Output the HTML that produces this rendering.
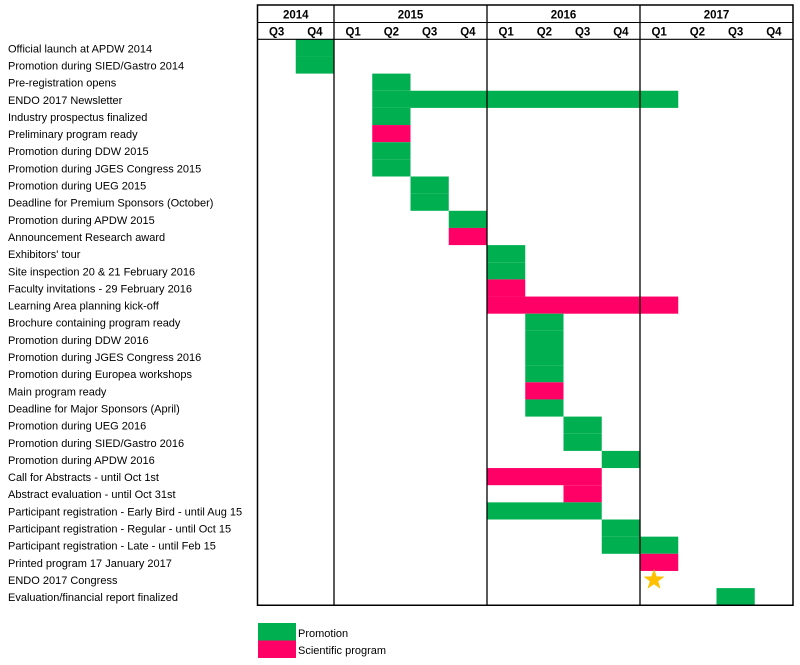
<!DOCTYPE html>
<html><head><meta charset="utf-8"><style>
html,body{margin:0;padding:0;background:#fff;}
svg{display:block;font-family:"Liberation Sans",sans-serif;}
</style></head><body>
<svg width="800" height="665" viewBox="0 0 800 665" xmlns="http://www.w3.org/2000/svg">
<g id="bars"></g>
<g id="labels" font-size="11" fill="#000"></g>
<g id="grid"></g>
</svg>
<script>
const NS="http://www.w3.org/2000/svg";
const X0=257.5,CW=38.25,Y0=39.3,RH=17.15;
const G="#00b050",P="#ff0066";
const rows=[
["Official launch  at APDW 2014",[[1,1,G]]],
["Promotion during SIED/Gastro 2014",[[1,1,G]]],
["Pre-registration opens",[[3,3,G]]],
["ENDO 2017 Newsletter",[[3,10,G]]],
["Industry prospectus finalized",[[3,3,G]]],
["Preliminary program ready",[[3,3,P]]],
["Promotion during DDW 2015",[[3,3,G]]],
["Promotion during JGES Congress 2015",[[3,3,G]]],
["Promotion during UEG 2015",[[4,4,G]]],
["Deadline for Premium Sponsors (October)",[[4,4,G]]],
["Promotion during APDW 2015",[[5,5,G]]],
["Announcement Research award",[[5,5,P]]],
["Exhibitors' tour",[[6,6,G]]],
["Site inspection 20 & 21 February 2016",[[6,6,G]]],
["Faculty invitations - 29 February 2016",[[6,6,P]]],
["Learning Area planning kick-off",[[6,10,P]]],
["Brochure containing program ready",[[7,7,G]]],
["Promotion during DDW 2016",[[7,7,G]]],
["Promotion during JGES Congress 2016",[[7,7,G]]],
["Promotion during Europea workshops",[[7,7,G]]],
["Main program ready",[[7,7,P]]],
["Deadline for Major Sponsors (April)",[[7,7,G]]],
["Promotion during UEG 2016",[[8,8,G]]],
["Promotion during SIED/Gastro 2016",[[8,8,G]]],
["Promotion during APDW 2016",[[9,9,G]]],
["Call for Abstracts - until Oct 1st",[[6,8,P]]],
["Abstract evaluation - until Oct 31st",[[8,8,P]]],
["Participant registration - Early Bird - until Aug 15",[[6,8,G]]],
["Participant registration - Regular - until Oct 15",[[9,9,G]]],
["Participant registration - Late - until Feb 15",[[9,10,G]]],
["Printed program 17 January 2017",[[10,10,P]]],
["ENDO 2017 Congress",[]],
["Evaluation/financial report finalized",[[12,12,G]]]
];
function el(t,a,p,txt){const e=document.createElementNS(NS,t);for(const k in a)e.setAttribute(k,a[k]);if(txt!=null)e.textContent=txt;p.appendChild(e);return e;}
const bars=document.getElementById("bars"),labels=document.getElementById("labels"),grid=document.getElementById("grid");
rows.forEach((r,i)=>{
 const y=Y0+i*RH;
 el("text",{x:8,y:y+13},labels,r[0]);
 r[1].forEach(b=>{el("rect",{x:X0+b[0]*CW,y:y,width:(b[1]-b[0]+1)*CW,height:RH,fill:b[2]},bars);});
});
(function(){const cx=X0+10*CW+14,cy=Y0+31*RH+9,R=11,r=4.4;let pts=[];for(let k=0;k<10;k++){const a=-Math.PI/2+k*Math.PI/5;const rr=k%2?r:R;pts.push((cx+rr*Math.cos(a)).toFixed(1)+","+(cy+rr*Math.sin(a)).toFixed(1));}el("polygon",{points:pts.join(" "),fill:"#ffc000"},bars);})();
const bottom=Y0+33*RH, right=X0+14*CW;
el("rect",{x:X0,y:5,width:14*CW,height:bottom-5,fill:"none",stroke:"#000","stroke-width":1.5},grid);
el("line",{x1:X0,y1:22.5,x2:right,y2:22.5,stroke:"#000","stroke-width":1},grid);
el("line",{x1:X0,y1:Y0,x2:right,y2:Y0,stroke:"#000","stroke-width":1.2},grid);
[2,6,10].forEach(c=>el("line",{x1:X0+c*CW,y1:5,x2:X0+c*CW,y2:bottom,stroke:"#000","stroke-width":1.3},grid));
const yrs=[["2014",0,2],["2015",2,6],["2016",6,10],["2017",10,14]];
yrs.forEach(y=>el("text",{x:X0+(y[1]+y[2])/2*CW,y:18.5,"text-anchor":"middle","font-size":11.5,"font-weight":"bold"},grid,y[0]));
const qs=["Q3","Q4","Q1","Q2","Q3","Q4","Q1","Q2","Q3","Q4","Q1","Q2","Q3","Q4"];
qs.forEach((q,i)=>el("text",{x:X0+(i+0.5)*CW,y:35.5,"text-anchor":"middle","font-size":11.5,"font-weight":"bold"},grid,q));
el("rect",{x:258,y:623,width:38,height:17.5,fill:G},grid);
el("rect",{x:258,y:640.5,width:38,height:17.5,fill:P},grid);
el("text",{x:298,y:637,"font-size":11},grid,"Promotion");
el("text",{x:298,y:654,"font-size":11},grid,"Scientific program");
</script>
</body></html>
